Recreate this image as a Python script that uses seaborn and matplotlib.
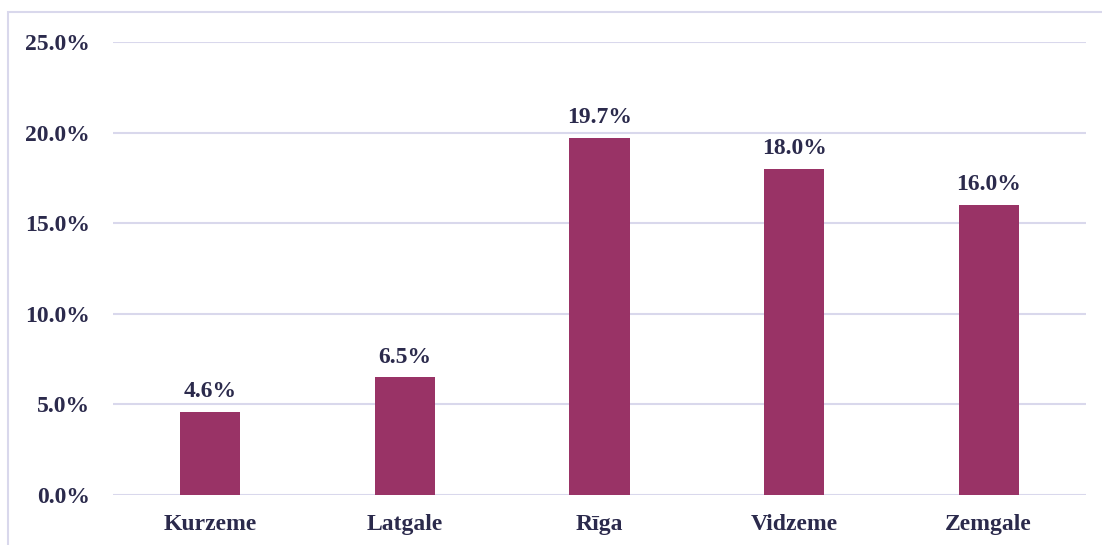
import matplotlib
matplotlib.use("Agg")
import matplotlib.pyplot as plt
from matplotlib.patches import Rectangle
from matplotlib.ticker import FuncFormatter, MultipleLocator
import seaborn as sns
import pandas as pd

regions = ["Kurzeme", "Latgale", "Rīga", "Vidzeme", "Zemgale"]
shares = [4.6, 6.5, 19.7, 18.0, 16.0]

bar_color = "#993366"
text_color = "#2b2a4c"
grid_color = "#d9d8ec"

sns.set_style("white")
plt.rcParams["font.family"] = ["Liberation Serif", "DejaVu Serif"]
plt.rcParams["font.weight"] = "bold"

df = pd.DataFrame({"region": regions, "share": shares})

fig = plt.figure(figsize=(11.02, 5.45), dpi=100)
ax = fig.add_axes([0.1025, 0.0917, 0.883, 0.8312])

sns.barplot(data=df, x="region", y="share", color=bar_color, width=0.31,
            saturation=1, linewidth=0, ax=ax, zorder=3)

ax.set_ylim(0, 25)
ax.yaxis.set_major_locator(MultipleLocator(5))
ax.yaxis.set_major_formatter(FuncFormatter(lambda v, _: f"{v:.1f}%"))
ax.grid(axis="y", color=grid_color, linewidth=1.5, zorder=0)
ax.set_axisbelow(True)
for s in ax.spines.values():
    s.set_visible(False)
ax.set_xlabel("")
ax.set_ylabel("")
ax.tick_params(axis="both", length=0, labelsize=17, labelcolor=text_color)
ax.tick_params(axis="y", pad=16.5)
ax.tick_params(axis="x", pad=14)
for lbl in ax.get_xticklabels() + ax.get_yticklabels():
    lbl.set_fontweight("bold")

for patch, val in zip(ax.patches, shares):
    ax.annotate(f"{val:.1f}%", (patch.get_x() + patch.get_width() / 2, val),
                xytext=(0, 7), textcoords="offset points", ha="center",
                va="bottom", fontsize=17, fontweight="bold", color=text_color)

# chart area frame
fig.patches.append(Rectangle((8 / 1102, -0.05), 1.1, 1 - 12 / 545 + 0.05,
                             transform=fig.transFigure, fill=False,
                             edgecolor=grid_color, linewidth=1.5))

fig.savefig("out.png", dpi=100)
